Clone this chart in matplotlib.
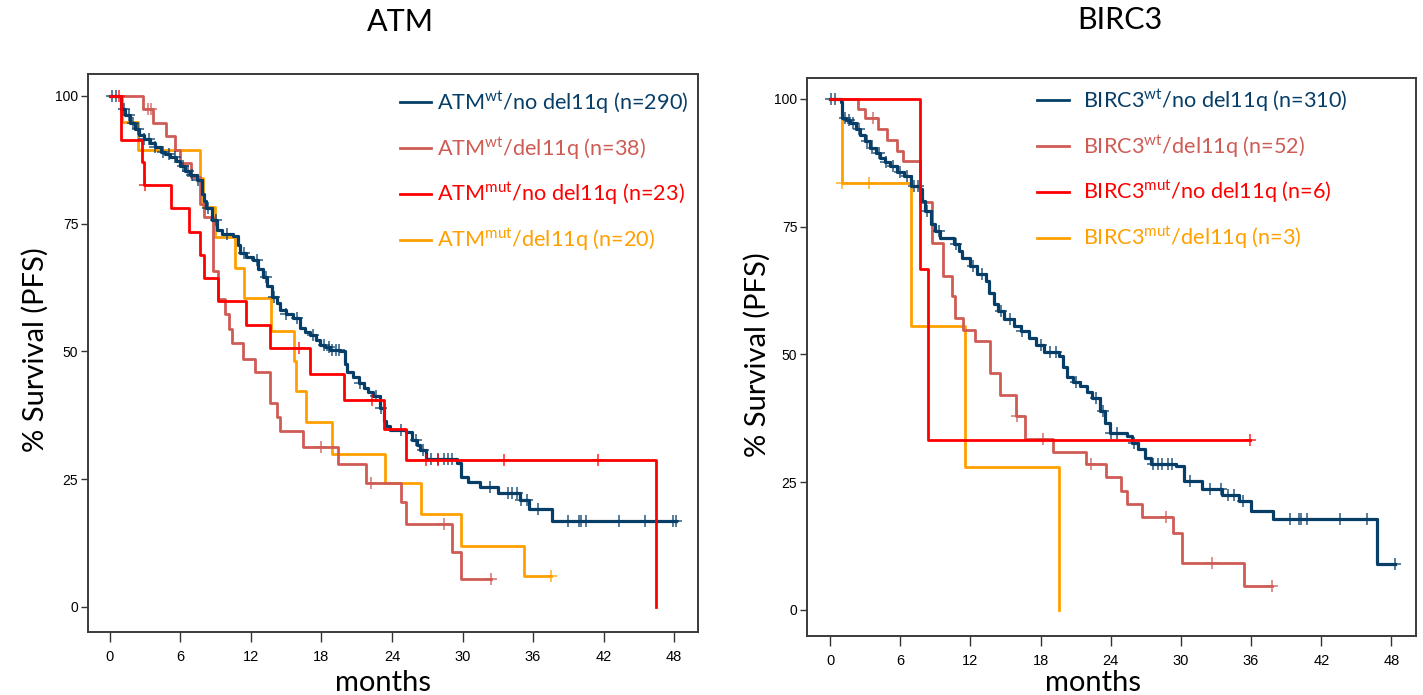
import numpy as np
import matplotlib.pyplot as plt

plt.rcParams['mathtext.fontset'] = 'custom'
plt.rcParams['mathtext.rm'] = 'Lato'
plt.rcParams['font.family'] = ['Liberation Sans Narrow', 'Liberation Sans', 'DejaVu Sans']

NAVY = '#073E68'
ROSE = '#CF5B55'
RED = '#FF0000'
ORANGE = '#FFA000'

# ---- ATM panel (months, % survival after each drop) ----
atm_wt_nodel_t = [0, 0.9, 1.3, 1.7, 2.1, 2.5, 2.9, 3.4, 3.8, 4.3, 4.7, 5.1, 5.6, 6.0, 6.4, 6.8,
                  7.4, 7.8, 8.0, 8.2, 8.7, 9.1, 9.5, 10.5, 10.9, 11.1, 11.6, 12.2, 12.6, 13.0,
                  13.4, 13.8, 14.2, 14.5, 15.0, 15.6, 16.2, 16.6, 17.0, 17.5, 17.9, 18.3, 18.7,
                  19.6, 20.0, 20.2, 20.7, 21.2, 21.6, 22.0, 22.4, 23.0, 23.3, 23.5, 23.8, 25.2,
                  25.7, 26.1, 26.4, 26.9, 29.5, 29.9, 30.5, 31.5, 33.0, 34.9, 35.7, 37.6]
atm_wt_nodel_s = [100, 97.5, 96.3, 94.7, 93.6, 92.4, 91.6, 90.8, 90.0, 89.1, 88.6, 88.1, 87.2, 86.3,
                  85.4, 84.5, 83.6, 80.9, 79.5, 78.0, 75.7, 73.8, 73.0, 72.5, 70.8, 69.2, 68.5,
                  67.9, 66.2, 64.6, 62.8, 60.7, 59.4, 58.1, 57.3, 56.5, 54.5, 53.9, 53.2, 52.3,
                  51.3, 50.8, 50.3, 50.0, 47.5, 46.0, 45.1, 43.9, 42.8, 42.0, 41.2, 38.9, 36.3,
                  35.4, 34.6, 34.3, 32.7, 31.7, 30.7, 28.9, 28.1, 25.5, 24.5, 23.5, 22.3, 20.9,
                  19.1, 16.9]
atm_wt_nodel_end = 48.2
atm_wt_nodel_cens = [0.2, 0.5, 1.2, 1.6, 2.0, 2.4, 2.9, 3.3, 3.8, 4.5, 5.0, 5.5, 6.2, 6.6, 7.0, 7.5,
                     8.3, 9.0, 10.0, 11.4, 12.5, 13.3, 14.0, 15.0, 15.9, 17.3, 18.2, 18.6, 18.9,
                     19.2, 19.5, 21.3, 22.6, 23.1, 24.8, 26.0, 26.6, 27.3, 27.9, 28.4, 28.8, 29.1,
                     32.3, 33.9, 34.2, 34.6, 35.0, 35.5, 36.4, 39.0, 39.9, 40.1, 40.5, 43.3, 45.5,
                     47.9, 48.2]

atm_wt_del_t = [0, 2.8, 3.7, 4.8, 5.5, 6.0, 6.9, 7.7, 8.0, 8.8, 9.2, 9.8, 10.1, 10.4, 11.3, 12.3,
                13.6, 14.2, 14.5, 16.4, 19.4, 21.8, 24.8, 25.2, 29.1, 29.9]
atm_wt_del_s = [100, 97.4, 94.7, 92.1, 89.5, 86.8, 84.2, 78.9, 76.3, 65.8, 60.3, 57.4, 54.3, 51.6,
                48.6, 46.0, 40.0, 37.2, 34.4, 31.4, 28.0, 24.3, 20.6, 16.2, 10.7, 5.4]
atm_wt_del_end = 32.4
atm_wt_del_cens = [3.2, 3.5, 18.0, 22.2, 28.4, 32.4]

atm_mut_nodel_t = [0, 0.9, 2.7, 2.9, 5.2, 6.7, 7.7, 8.0, 9.2, 11.6, 13.6, 17.0, 19.9, 23.3, 25.2, 46.5]
atm_mut_nodel_s = [100, 91.3, 87.0, 82.6, 78.1, 73.4, 68.9, 64.3, 59.8, 55.2, 50.7, 45.6, 40.6, 34.8,
                   28.8, 0]
atm_mut_nodel_end = 46.5
atm_mut_nodel_cens = [0.8, 3.0, 16.1, 22.3, 26.9, 27.9, 33.5, 41.5]

atm_mut_del_t = [0, 1.0, 2.4, 7.7, 7.9, 8.9, 10.6, 11.4, 13.7, 15.7, 15.8, 16.7, 18.9, 23.4, 26.5,
                 29.9, 35.2]
atm_mut_del_s = [100, 95.0, 89.4, 83.9, 78.3, 72.4, 66.3, 60.4, 54.1, 48.2, 42.3, 36.1, 30.0, 24.2,
                 18.1, 12.0, 6.0]
atm_mut_del_end = 37.5
atm_mut_del_cens = [37.5]

# ---- BIRC3 panel ----
birc3_wt_nodel_t = [0, 0.9, 1.0, 1.4, 1.7, 2.2, 2.6, 3.0, 3.4, 3.9, 4.3, 4.7, 5.1, 5.7, 6.3, 6.9,
                    7.7, 7.9, 8.1, 8.6, 9.0, 9.4, 10.6, 11.0, 11.3, 12.0, 12.6, 13.3, 13.6, 14.0,
                    14.4, 14.9, 15.7, 16.3, 17.0, 17.6, 18.3, 19.6, 19.9, 20.3, 20.8, 21.4, 22.0,
                    22.4, 23.1, 23.5, 23.9, 25.4, 25.8, 26.3, 26.9, 27.4, 29.6, 30.3, 31.8, 33.5,
                    35.0, 36.0, 37.9, 46.8]
birc3_wt_nodel_s = [100, 99.5, 96.3, 95.8, 95.3, 94.2, 93.0, 91.7, 90.4, 89.4, 88.5, 87.6, 86.8,
                    85.8, 84.9, 82.9, 82.3, 80.0, 78.1, 75.5, 74.1, 72.8, 71.6, 70.2, 68.9, 67.3,
                    65.7, 64.4, 62.0, 59.8, 58.5, 56.9, 55.6, 54.5, 53.3, 51.9, 50.4, 49.7, 47.5,
                    45.5, 44.6, 43.8, 42.6, 41.5, 38.9, 36.5, 34.7, 34.0, 32.7, 31.4, 29.8, 28.5,
                    28.1, 25.2, 23.6, 22.5, 21.3, 19.4, 17.7, 8.9]
birc3_wt_nodel_end = 48.3
birc3_wt_nodel_cens = [0.1, 0.4, 1.3, 1.6, 2.0, 2.5, 3.2, 3.6, 4.2, 4.8, 5.4, 6.0, 6.6, 7.2, 7.5, 8.3,
                       9.3, 10.8, 12.2, 13.0, 14.6, 15.4, 16.4, 18.0, 18.8, 19.3, 21.0, 22.7, 23.3,
                       24.0, 24.5, 26.0, 27.6, 28.0, 28.4, 28.9, 29.2, 30.8, 32.5, 33.4, 34.0, 34.5,
                       35.3, 39.3, 40.1, 40.3, 40.8, 43.6, 45.9, 48.3]

birc3_wt_del_t = [0, 2.4, 3.0, 4.1, 4.9, 5.7, 6.2, 7.7, 8.7, 9.7, 10.4, 10.7, 11.4, 12.4, 13.7, 14.5,
                  15.9, 16.7, 19.1, 21.9, 23.6, 24.9, 25.4, 26.7, 29.3, 30.1, 35.4]
birc3_wt_del_s = [100, 98.1, 96.2, 94.1, 92.0, 89.9, 87.9, 79.9, 71.8, 65.4, 61.4, 57.2, 54.8, 52.6,
                  46.4, 42.0, 37.9, 33.4, 31.0, 28.6, 26.0, 23.3, 20.8, 18.2, 15.1, 9.1, 4.6]
birc3_wt_del_end = 37.8
birc3_wt_del_cens = [3.7, 16.0, 18.2, 22.3, 28.7, 32.7, 37.8]

birc3_mut_nodel_t = [0, 7.7, 8.4]
birc3_mut_nodel_s = [100, 66.7, 33.3]
birc3_mut_nodel_end = 35.9
birc3_mut_nodel_cens = [35.9]

birc3_mut_del_t = [0, 1.0, 6.9, 11.5, 19.6]
birc3_mut_del_s = [100, 83.5, 55.6, 27.9, 0]
birc3_mut_del_end = 19.6
birc3_mut_del_cens = [1.0, 3.3]

atm_labels = [('ATM', 'wt', '/no del11q (n=290)'), ('ATM', 'wt', '/del11q (n=38)'),
              ('ATM', 'mut', '/no del11q (n=23)'), ('ATM', 'mut', '/del11q (n=20)')]
birc3_labels = [('BIRC3', 'wt', '/no del11q (n=310)'), ('BIRC3', 'wt', '/del11q (n=52)'),
                ('BIRC3', 'mut', '/no del11q (n=6)'), ('BIRC3', 'mut', '/del11q (n=3)')]
month_ticks = [0, 6, 12, 18, 24, 30, 36, 42, 48]
surv_ticks = [0, 25, 50, 75, 100]


def km(ax, t, s, end, cens, color, lw=2.0):
    ax.step(list(t) + [end], list(s) + [s[-1]], where='post', color=color, lw=lw)
    idx = np.searchsorted(t, cens, side='right') - 1
    ax.plot(cens, np.array(s)[idx], ls='none', marker='+', ms=9, mew=1.1, color=color, alpha=0.85)


def style(ax, xlim, ylim):
    ax.set_xlim(*xlim)
    ax.set_ylim(*ylim)
    ax.set_xticks(month_ticks)
    ax.set_yticks(surv_ticks)
    ax.tick_params(axis='x', direction='out', length=7, width=1, colors='#333333', labelsize=10.5, pad=6,
                   labelcolor='black')
    ax.tick_params(axis='y', direction='out', length=5, width=1, colors='#333333', labelsize=10, pad=2,
                   labelcolor='black')
    for sp in ax.spines.values():
        sp.set_linewidth(1.4)
        sp.set_color('#3a3a3a')


def legend(ax, labels, cols, x0, ytop, toff, dy=0.082):
    for i, (name, sup, rest) in enumerate(labels):
        y = ytop - i * dy
        ax.plot([x0, x0 + 0.052], [y, y], transform=ax.transAxes, color=cols[i], lw=2)
        ax.text(x0 + toff, y, name + r'$^{\mathrm{' + sup + '}}$' + rest, transform=ax.transAxes,
                color=cols[i], fontsize=15.6, family='Lato', va='center', ha='left')


fig = plt.figure(figsize=(14.23, 6.95), dpi=100)
cols = [NAVY, ROSE, RED, ORANGE]

# left panel: box 88..698 x 74..632 px
ax1 = fig.add_axes([88 / 1423, 1 - 632 / 695, 610 / 1423, 558 / 695])
km(ax1, atm_mut_del_t, atm_mut_del_s, atm_mut_del_end, atm_mut_del_cens, ORANGE)
km(ax1, atm_wt_del_t, atm_wt_del_s, atm_wt_del_end, atm_wt_del_cens, ROSE)
km(ax1, atm_wt_nodel_t, atm_wt_nodel_s, atm_wt_nodel_end, atm_wt_nodel_cens, NAVY, lw=2.3)
km(ax1, atm_mut_nodel_t, atm_mut_nodel_s, atm_mut_nodel_end, atm_mut_nodel_cens, RED)
style(ax1, (-1.87, 50.04), (-4.9, 104.3))
legend(ax1, atm_labels, cols, 0.511, 0.949, 0.061)

# right panel: box 807..1416 x 78..636 px
ax2 = fig.add_axes([807 / 1423, 1 - 636 / 695, 609 / 1423, 558 / 695])
km(ax2, birc3_mut_del_t, birc3_mut_del_s, birc3_mut_del_end, birc3_mut_del_cens, ORANGE)
km(ax2, birc3_wt_del_t, birc3_wt_del_s, birc3_wt_del_end, birc3_wt_del_cens, ROSE)
km(ax2, birc3_wt_nodel_t, birc3_wt_nodel_s, birc3_wt_nodel_end, birc3_wt_nodel_cens, NAVY, lw=2.3)
km(ax2, birc3_mut_nodel_t, birc3_mut_nodel_s, birc3_mut_nodel_end, birc3_mut_nodel_cens, RED)
style(ax2, (-1.97, 50.1), (-5.1, 104.1))
legend(ax2, birc3_labels, cols, 0.378, 0.96, 0.075)

# titles and axis labels in Calibri-like font
fig.text(400 / 1423, 1 - 22 / 695, 'ATM', family='Lato', fontsize=22, ha='center', va='center')
fig.text(1120 / 1423, 1 - 20 / 695, 'BIRC3', family='Lato', fontsize=22, ha='center', va='center')
fig.text(35 / 1423, 1 - 350 / 695, '% Survival (PFS)', family='Lato', fontsize=21, rotation=90,
         ha='center', va='center')
fig.text(757 / 1423, 1 - 355 / 695, '% Survival (PFS)', family='Lato', fontsize=21, rotation=90,
         ha='center', va='center')
fig.text(383 / 1423, 1 - 683 / 695, 'months', family='Lato', fontsize=21, ha='center', va='center')
fig.text(1093 / 1423, 1 - 683 / 695, 'months', family='Lato', fontsize=21, ha='center', va='center')

fig.savefig('out.png', dpi=100)
